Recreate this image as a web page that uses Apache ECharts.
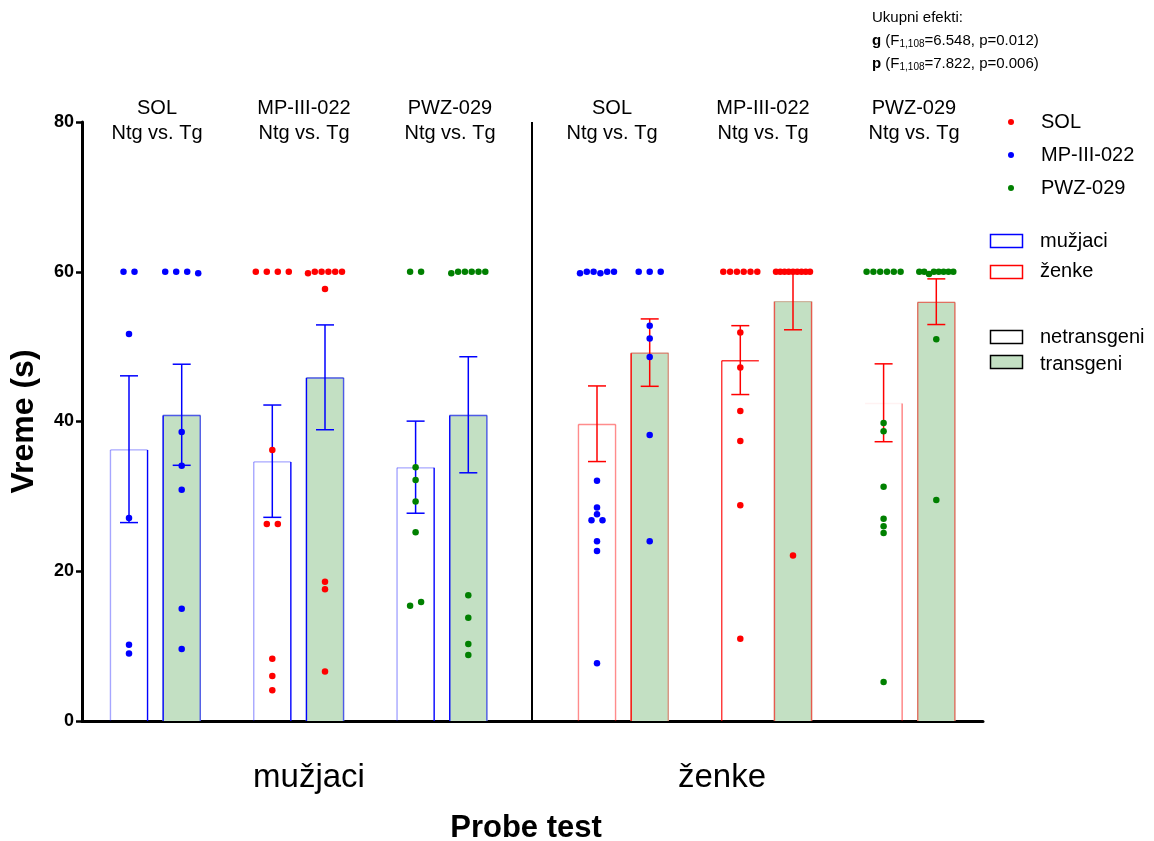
<!DOCTYPE html>
<html><head><meta charset="utf-8">
<script src="https://cdn.jsdelivr.net/npm/echarts@6/dist/echarts.min.js"></script>
<style>html,body{margin:0;padding:0;background:#fff}#c{width:1154px;height:841px}</style>
</head><body><div id="c"></div>
<script>
const FONT = '"Liberation Sans", Arial, Helvetica, sans-serif';

// ---------- DATA ----------
const drugs = ['SOL', 'MP-III-022', 'PWZ-029'];
const sexes = ['mužjaci', 'ženke'];
const genotypes = ['netransgeni', 'transgeni'];
const yTicks = [0, 20, 40, 60, 80];

const meanMaleNtg   = [36.3, 34.7, 33.9];
const meanMaleTg    = [40.9, 45.9, 40.9];
const meanFemaleNtg = [39.7, 48.2, 42.5];
const meanFemaleTg  = [49.2, 56.1, 56.0];

const semMaleNtg   = [9.8, 7.5, 6.15];
const semMaleTg    = [6.75, 7.0, 7.75];
const semFemaleNtg = [5.05, 4.6, 5.2];
const semFemaleTg  = [4.5, 3.85, 3.05];

const dotsMaleSolNtg = [60, 60, 51.7, 27.1, 10.2, 9.0];
const dotsMaleSolTg  = [60, 60, 60, 59.8, 38.6, 34.1, 30.9, 15.0, 9.6];
const dotsMaleMpNtg  = [60, 60, 60, 60, 36.2, 26.3, 26.3, 8.3, 6.0, 4.1];
const dotsMaleMpTg   = [59.8, 60, 60, 60, 60, 60, 57.7, 18.6, 17.6, 6.6];
const dotsMalePwzNtg = [60, 60, 33.9, 32.2, 29.3, 25.2, 15.4, 15.9];
const dotsMalePwzTg  = [59.8, 60, 60, 60, 60, 60, 16.8, 13.8, 10.3, 8.8];
const dotsFemaleSolNtg = [59.8, 60, 60, 59.8, 60, 60, 32.1, 28.5, 27.6, 26.8, 26.8, 24.0, 22.7, 7.7];
const dotsFemaleSolTg  = [60, 60, 60, 52.8, 51.1, 48.6, 38.2, 24.0];
const dotsFemaleMpNtg  = [60, 60, 60, 60, 60, 60, 51.9, 47.2, 41.4, 37.4, 28.8, 11.0];
const dotsFemaleMpTg   = [60, 60, 60, 60, 60, 60, 60, 60, 60, 22.1];
const dotsFemalePwzNtg = [60, 60, 60, 60, 60, 60, 39.8, 38.7, 31.3, 27.0, 26.0, 25.1, 5.2];
const dotsFemalePwzTg  = [60, 60, 59.7, 60, 60, 60, 60, 60, 51.0, 29.5];

// ---------- LAYOUT / STYLE ----------
const xMax = 901;
const sexStart = [47, 515];
const drugStep = 143.3;
const tgOffset = 52.7;
const barW = 38.5;
const dividerX = 450;
const sexColor = ['#0000ff', '#ff0000'];
const dotColor = ['#0000ff', '#ff0000', '#008000']; // as drawn per drug group
const legendDotColor = ['#ff0000', '#0000ff', '#008000'];
const tgFill = '#c3e0c3';
// edge alphas [top,left,right] per bar (sex*6 + drug*2 + genotype)
const edgeAlpha = [
  [0.35, 0.35, 1], [0.6, 1, 0.6],
  [0.35, 0.35, 1], [0.6, 1, 0.6],
  [0.35, 0.35, 1], [0.6, 1, 0.6],
  [0.45, 0.45, 0.45], [0.35, 1, 0.35],
  [0.8, 0.8, 0], [0.2, 0.6, 0.6],
  [0.05, 0, 0.5], [0.5, 0.5, 0.5]
];

const means = [[meanMaleNtg, meanMaleTg], [meanFemaleNtg, meanFemaleTg]];
const sems = [[semMaleNtg, semMaleTg], [semFemaleNtg, semFemaleTg]];
const dots = [
  [[dotsMaleSolNtg, dotsMaleSolTg], [dotsMaleMpNtg, dotsMaleMpTg], [dotsMalePwzNtg, dotsMalePwzTg]],
  [[dotsFemaleSolNtg, dotsFemaleSolTg], [dotsFemaleMpNtg, dotsFemaleMpTg], [dotsFemalePwzNtg, dotsFemalePwzTg]]
];

function hexA(hex, a) {
  const r = parseInt(hex.slice(1, 3), 16), g = parseInt(hex.slice(3, 5), 16), b = parseInt(hex.slice(5, 7), 16);
  return 'rgba(' + r + ',' + g + ',' + b + ',' + a + ')';
}

// swarm offsets for near-identical values
function swarm(vals) {
  const out = [];
  const used = vals.map(() => false);
  for (let i = 0; i < vals.length; i++) {
    if (used[i]) continue;
    const cl = [i];
    used[i] = true;
    for (let j = i + 1; j < vals.length; j++) {
      if (!used[j] && Math.abs(vals[j] - vals[i]) < 0.6) { cl.push(j); used[j] = true; }
    }
    const n = cl.length;
    const sp = n > 1 ? Math.min(11, 34 / (n - 1)) : 0;
    cl.forEach((k, m) => out[k] = (m - (n - 1) / 2) * sp);
  }
  return out;
}

const barData = [], errData = [];
const dotSeriesData = [[], [], []];
for (let s = 0; s < 2; s++) {
  for (let d = 0; d < 3; d++) {
    for (let g = 0; g < 2; g++) {
      const idx = s * 6 + d * 2 + g;
      const x = sexStart[s] + d * drugStep + g * tgOffset;
      const m = means[s][g][d], e = sems[s][g][d];
      barData.push([x, m, idx, s, g]);
      errData.push([x, m - e, m + e, s]);
      const vals = dots[s][d][g];
      const offs = swarm(vals);
      vals.forEach((v, k) => dotSeriesData[d].push([x + offs[k], v]));
    }
  }
}

const chart = echarts.init(document.getElementById('c'), null, { renderer: 'canvas' });

const graphics = [];
const topLabelX = [157, 304, 450, 612, 763, 914];
topLabelX.forEach((cx, i) => {
  graphics.push({ type: 'text', x: cx, y: 120.5, style: {
    text: drugs[i % 3] + '\nNtg vs. Tg', fill: '#000', fontSize: 20, fontFamily: FONT,
    lineHeight: 25, align: 'center', verticalAlign: 'middle' } });
});
graphics.push({ type: 'text', x: 309, y: 778, style: { text: sexes[0], fill: '#000', fontSize: 33, fontFamily: FONT, align: 'center', verticalAlign: 'middle' } });
graphics.push({ type: 'text', x: 722, y: 778, style: { text: sexes[1], fill: '#000', fontSize: 33, fontFamily: FONT, align: 'center', verticalAlign: 'middle' } });
graphics.push({ type: 'text', x: 526, y: 828, style: { text: 'Probe test', fill: '#000', fontSize: 31, fontWeight: 'bold', fontFamily: FONT, align: 'center', verticalAlign: 'middle' } });

// annotation
const annRich = {
  n: { fontSize: 15, fontFamily: FONT, fill: '#000' },
  b: { fontSize: 15, fontFamily: FONT, fontWeight: 'bold', fill: '#000' },
  sub: { fontSize: 10, fontFamily: FONT, fill: '#000', verticalAlign: 'bottom', padding: [6, 0, 0, 0] }
};
graphics.push({ type: 'text', x: 872, y: 18, style: { text: 'Ukupni efekti:', fill: '#000', fontSize: 15, fontFamily: FONT, align: 'left', verticalAlign: 'middle' } });
graphics.push({ type: 'text', x: 872, y: 41, style: { text: '{b|g}{n| (F}{sub|1,108}{n|=6.548, p=0.012)}', rich: annRich, align: 'left', verticalAlign: 'middle' } });
graphics.push({ type: 'text', x: 872, y: 64, style: { text: '{b|p}{n| (F}{sub|1,108}{n|=7.822, p=0.006)}', rich: annRich, align: 'left', verticalAlign: 'middle' } });

// legend
const legY = [122, 155, 188];
drugs.forEach((d, i) => {
  graphics.push({ type: 'circle', shape: { cx: 1011, cy: legY[i], r: 3 }, style: { fill: legendDotColor[i] } });
  graphics.push({ type: 'text', x: 1041, y: legY[i], style: { text: d, fill: '#000', fontSize: 20, fontFamily: FONT, align: 'left', verticalAlign: 'middle' } });
});
const rectLeg = [
  { y: 234, stroke: '#0000ff', fill: '#fff', text: sexes[0], ty: 241 },
  { y: 265, stroke: '#ff0000', fill: '#fff', text: sexes[1], ty: 271 },
  { y: 330, stroke: '#000', fill: '#fff', text: genotypes[0], ty: 337 },
  { y: 355, stroke: '#000', fill: tgFill, text: genotypes[1], ty: 364 }
];
rectLeg.forEach(r => {
  graphics.push({ type: 'rect', shape: { x: 990.5, y: r.y + 0.5, width: 32, height: 13 }, style: { fill: r.fill, stroke: r.stroke, lineWidth: 1.5 } });
  graphics.push({ type: 'text', x: 1040, y: r.ty, style: { text: r.text, fill: '#000', fontSize: 20, fontFamily: FONT, align: 'left', verticalAlign: 'middle' } });
});

const option = {
  animation: false,
  backgroundColor: '#fff',
  grid: { left: 82, right: 171, top: 122, bottom: 120, containLabel: false },
  xAxis: {
    type: 'value', min: 0, max: xMax,
    axisLine: { show: true, onZero: false, lineStyle: { color: '#000', width: 3 } },
    axisTick: { show: false }, axisLabel: { show: false }, splitLine: { show: false }
  },
  yAxis: {
    type: 'value', min: yTicks[0], max: yTicks[yTicks.length - 1], interval: 20,
    name: 'Vreme (s)', nameLocation: 'middle', nameGap: 42,
    nameTextStyle: { fontSize: 32, fontWeight: 'bold', fontFamily: FONT, color: '#000' },
    axisLine: { show: true, lineStyle: { color: '#000', width: 3 } },
    axisTick: { show: true, length: 6, lineStyle: { color: '#000', width: 2.5 } },
    axisLabel: { fontSize: 18, fontWeight: 'bold', fontFamily: FONT, color: '#000', margin: 8 },
    splitLine: { show: false }
  },
  graphic: graphics,
  series: [
    {
      type: 'custom', z: 1, data: barData, clip: false,
      encode: { x: 0, y: 1 },
      renderItem: function (params, api) {
        const x = api.value(0), m = api.value(1), idx = api.value(2), s = api.value(3), g = api.value(4);
        const p0 = api.coord([x - barW / 2, m]);
        const p1 = api.coord([x + barW / 2, 0]);
        const col = sexColor[s];
        const a = edgeAlpha[idx];
        const ch = [{ type: 'rect', shape: { x: p0[0], y: p0[1], width: p1[0] - p0[0], height: p1[1] - p0[1] },
          style: { fill: g === 1 ? tgFill : 'rgba(255,255,255,0)' } }];
        const L = p0[0] + 0.7, R = p1[0] - 0.7, T = p0[1] + 0.7, B = p1[1];
        if (a[0] > 0) ch.push({ type: 'line', shape: { x1: L, y1: T, x2: R, y2: T }, style: { stroke: hexA(col, a[0]), lineWidth: 1.4 } });
        if (a[1] > 0) ch.push({ type: 'line', shape: { x1: L, y1: T, x2: L, y2: B }, style: { stroke: hexA(col, a[1]), lineWidth: 1.4 } });
        if (a[2] > 0) ch.push({ type: 'line', shape: { x1: R, y1: T, x2: R, y2: B }, style: { stroke: hexA(col, a[2]), lineWidth: 1.4 } });
        return { type: 'group', children: ch };
      },
      markLine: {
        silent: true, symbol: 'none', label: { show: false },
        lineStyle: { color: '#000', width: 2, type: 'solid' },
        data: [{ xAxis: dividerX }]
      }
    },
    {
      type: 'custom', z: 2, data: errData, clip: false,
      encode: { x: 0, y: [1, 2] },
      renderItem: function (params, api) {
        const x = api.value(0), lo = api.value(1), hi = api.value(2), s = api.value(3);
        const pt = api.coord([x, hi]), pb = api.coord([x, lo]);
        const st = { stroke: sexColor[s], lineWidth: 1.5 };
        const hw = 9;
        return { type: 'group', children: [
          { type: 'line', shape: { x1: pt[0], y1: pt[1], x2: pb[0], y2: pb[1] }, style: st },
          { type: 'line', shape: { x1: pt[0] - hw, y1: pt[1], x2: pt[0] + hw, y2: pt[1] }, style: st },
          { type: 'line', shape: { x1: pb[0] - hw, y1: pb[1], x2: pb[0] + hw, y2: pb[1] }, style: st }
        ] };
      }
    }
  ].concat(drugs.map((d, i) => ({
    type: 'scatter', name: d, z: 3, data: dotSeriesData[i], symbol: 'circle', symbolSize: 6.5,
    itemStyle: { color: dotColor[i], opacity: 1 }, clip: false
  })))
};
chart.setOption(option);
</script>
</body></html>
